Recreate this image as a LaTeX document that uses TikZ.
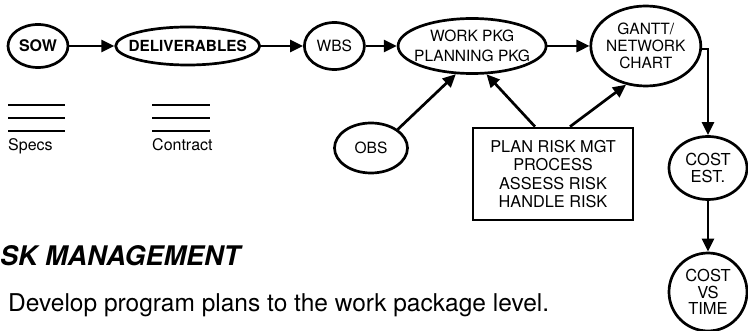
\documentclass[tikz,border=0pt]{standalone}
\usepackage{fontspec}
\setmainfont{TeX Gyre Heros}
\usepackage{tikz}
\usetikzlibrary{shapes.geometric, arrows.meta, positioning}
\tikzset{
    oval/.style={ellipse, draw, line width=2.7pt, inner sep=-20pt, align=center, font=\fontsize{15.5}{18}\selectfont},
    riskbox/.style={rectangle, draw, line width=2.7pt, align=center, minimum width=160pt, minimum height=92pt, font=\fontsize{16.3}{18.5}\selectfont},
    arrow/.style={-{Triangle[length=13pt, width=12pt]}, line width=2.7pt},
    rule/.style={line width=2.8pt}
}

\begin{document}
\begin{tikzpicture}[x=1pt, y=-1pt, node distance=45pt]
            \useasboundingbox (0,0) rectangle (748,331);
			\node (sow) [oval, minimum width=60pt, minimum height=43pt, font=\fontsize{16}{18}\selectfont\bfseries] at (38,46) {SOW};
			\node (deliv) [oval, right=of sow, minimum width=144pt, minimum height=38pt, font=\fontsize{15.3}{18}\selectfont\bfseries] {DELIVERABLES};
			\node (wbs) [oval, right=42pt of deliv, minimum width=60pt, minimum height=47pt] {WBS};
			\node (wpkg) [oval, right=31pt of wbs, minimum width=148pt, minimum height=55pt, font=\fontsize{15.5}{20}\selectfont] {WORK PKG\\PLANNING PKG};
            \node (gantt) [oval, right=42pt of wpkg, minimum width=110pt, minimum height=80pt, font=\fontsize{15.5}{17}\selectfont] {GANTT/\\NETWORK\\CHART};
            \node (cest) [oval, minimum width=78pt, minimum height=63pt, font=\fontsize{16.5}{16.5}\selectfont] at (708,168) {COST\\EST.};
            \node (ctime) [oval, minimum width=78pt, minimum height=78pt, font=\fontsize{16.5}{16.5}\selectfont] at (708,292) {COST\\VS\\TIME};
            \node (obs) [oval, minimum width=73pt, minimum height=50pt] at (371,148) {OBS};
            \node (risk) [riskbox] at (553,174) {PLAN RISK MGT\\PROCESS\\ASSESS RISK\\HANDLE RISK};

			\draw [arrow] (sow) -- (deliv);
			\draw [arrow] (deliv) -- (wbs);
            \draw [arrow] (wbs) -- (wpkg);
            \draw [arrow] (wpkg) -- (gantt);
            \draw [arrow] ([yshift=-3pt]gantt.east) -| (cest.north);
            \draw [arrow] (cest) -- (ctime);
            \draw [arrow] (obs.north east) -- (wpkg.240);
            \draw [arrow] ([xshift=-18pt]risk.north) -- (wpkg.297);
            \draw [arrow] ([xshift=17pt]risk.north) -- (gantt.243);

            % specs and contract
            \foreach \y in {105,118,131} {
                \draw [rule] (8,\y) -- (65,\y);
                \draw [rule] (152,\y) -- (210,\y);
            }
            \node (specs) [anchor=base west, inner sep=0pt, font=\fontsize{16}{18}\selectfont] at (8,151) {Specs};
            \node (contract) [anchor=base west, inner sep=0pt, font=\fontsize{16}{18}\selectfont] at (152,151) {Contract};

            \node (title) [anchor=base west, inner sep=0pt, font=\fontsize{27}{30}\selectfont\bfseries\itshape] at (0,266) {SK MANAGEMENT};
            \node (plans) [anchor=base west, inner sep=0pt, font=\fontsize{24.5}{27}\selectfont] at (8,312) {Develop program plans to the work package level.};
		\end{tikzpicture}
\end{document}
